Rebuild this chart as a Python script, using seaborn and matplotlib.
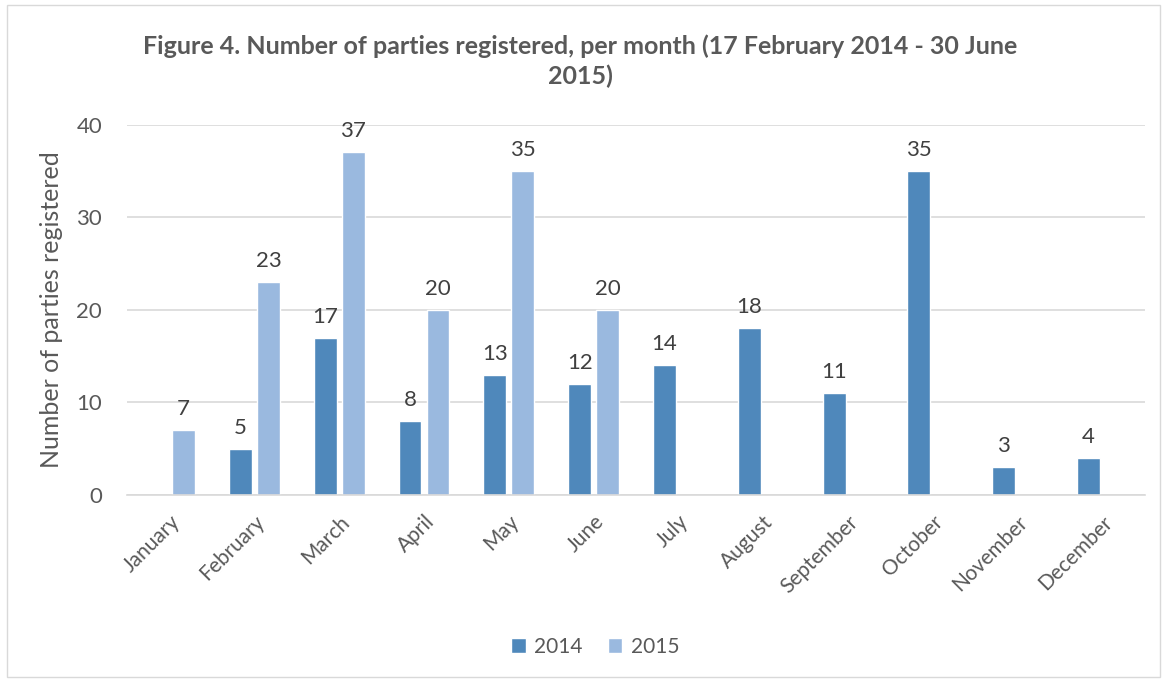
import pandas as pd
import seaborn as sns
import matplotlib.pyplot as plt
from matplotlib.patches import Rectangle

# Dados ----------------------------------------------------------
meses = ['January', 'February', 'March', 'April', 'May', 'June', 'July',
         'August', 'September', 'October', 'November', 'December']
anos = ['2014', '2015']
valores_2014 = [None, 5, 17, 8, 13, 12, 14, 18, 11, 35, 3, 4]
valores_2015 = [7, 23, 37, 20, 35, 20, None, None, None, None, None, None]
cores = {'2014': '#4F88BB', '2015': '#9AB9DF'}

linhas = []
for mes, v14, v15 in zip(meses, valores_2014, valores_2015):
    linhas.append({'Mes': mes, 'Ano': '2014', 'Valor': v14})
    linhas.append({'Mes': mes, 'Ano': '2015', 'Valor': v15})
df = pd.DataFrame(linhas)

cinza = '#595959'
sns.set_theme(style='white')
plt.rcParams['font.family'] = ['Lato', 'DejaVu Sans']

fig = plt.figure(figsize=(11.67, 6.81), dpi=100)
ax = fig.add_axes([0.109, 0.273, 0.872, 0.544])

sns.barplot(data=df, x='Mes', y='Valor', hue='Ano', hue_order=anos,
            palette=cores, saturation=1, width=0.66, gap=0.18, ax=ax, legend=True)

# Rótulos de dados
for cont in ax.containers:
    rotulos = ['' if (v != v or v == 0) else f'{int(v)}' for v in cont.datavalues]
    ax.bar_label(cont, labels=rotulos, padding=8, fontsize=16, color='#404040')

ax.set_ylim(0, 40)
ax.set_yticks([0, 10, 20, 30, 40])
ax.set_xlim(-0.5, 11.5)
ax.yaxis.grid(True, color='#D9D9D9', linewidth=1.2)
ax.set_axisbelow(True)
for lado in ['top', 'right', 'left']:
    ax.spines[lado].set_visible(False)
ax.spines['bottom'].set_color('#D9D9D9')
ax.spines['bottom'].set_linewidth(1.2)
ax.tick_params(axis='y', length=0, labelsize=16, labelcolor=cinza, pad=18)
ax.tick_params(axis='x', length=0, labelsize=15, labelcolor=cinza, pad=12)
plt.setp(ax.get_xticklabels(), rotation=45, ha='right', rotation_mode='anchor')

ax.set_xlabel('')
ax.set_ylabel('Number of parties registered', fontsize=18, color=cinza, labelpad=10)

fig.text(0.497, 0.91, 'Figure 4. Number of parties registered, per month (17 February 2014 - 30 June\n2015)',
         ha='center', va='center', fontsize=18, fontweight='bold', color=cinza,
         linespacing=1.3)

leg = ax.legend(loc='center', bbox_to_anchor=(0.51, 0.05), bbox_transform=fig.transFigure,
                ncol=2, frameon=False, fontsize=15, handlelength=0.7, handleheight=0.7,
                columnspacing=1.2, handletextpad=0.4)
for t in leg.get_texts():
    t.set_color(cinza)

fig.patches.append(Rectangle((0.006, 0.006), 0.988, 0.986, transform=fig.transFigure,
                             fill=False, edgecolor='#D9D9D9', linewidth=1))

fig.savefig('out.png', dpi=100)
